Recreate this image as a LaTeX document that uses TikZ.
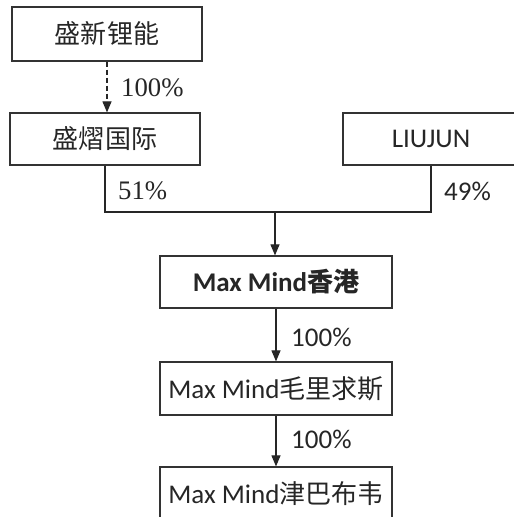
\documentclass[tikz,border=0pt]{standalone}
\usepackage{fontspec}
\setmainfont{Carlito}
\newfontfamily\tnr{Liberation Serif}[Scale=0.99]
\newfontfamily\cjk{Noto Sans CJK SC}[Scale=0.965]
\usetikzlibrary{arrows.meta}
\begin{document}
\begin{tikzpicture}[x=1bp,y=-1bp,
  box/.style={draw=black!80,line width=1.2bp,inner sep=0pt,minimum height=53bp,font=\fontsize{27bp}{32bp}\selectfont,text=black!85},
  conn/.style={line width=1.1bp,draw=black!85},
  arr/.style={conn,-{Triangle[length=11bp,width=9bp]}},
  lab/.style={font=\fontsize{27bp}{32bp}\selectfont,text=black!85,inner sep=0pt}]
\useasboundingbox (0,0) rectangle (514,517);
\node[box,minimum width=190bp,minimum height=54bp] (a) at (107,34) {\cjk 盛新锂能};
\node[box,minimum width=190bp,minimum height=52bp] (b) at (105,139) {\cjk 盛熠国际};
\node[box,minimum width=176bp,minimum height=52bp] (l) at (431,139) {LIUJUN};
\node[box,minimum width=232bp,minimum height=52bp] (h) at (276,282) {\bfseries Max Mind{\cjk 香港}};
\node[box,minimum width=232bp,minimum height=53bp] (m) at (276,388.5) {Max Mind{\cjk 毛里求斯}};
\node[box,minimum width=232bp,minimum height=53bp] (z) at (276,493.5) {Max Mind{\cjk 津巴布韦}};
\coordinate (j) at (275,212);
\draw[arr,dash pattern=on 5bp off 3bp] (a.south) -- (a.south |- b.north);
\draw[conn] (b.south) |- (j) -| (l.south);
\draw[arr] (j) -- (j |- h.north);
\draw[arr] (h.south) -- (m.north);
\draw[arr] (m.south) -- (z.north);
\node[lab,anchor=west] (p1) at (121,88) {\tnr 100\%};
\node[lab,anchor=west] (p2) at (118,191) {\tnr 51\%};
\node[lab,anchor=west] (p3) at (444,191) {49\%};
\node[lab,anchor=west] (p4) at (291,337) {100\%};
\node[lab,anchor=west] (p5) at (291,439) {100\%};
\end{tikzpicture}
\end{document}
